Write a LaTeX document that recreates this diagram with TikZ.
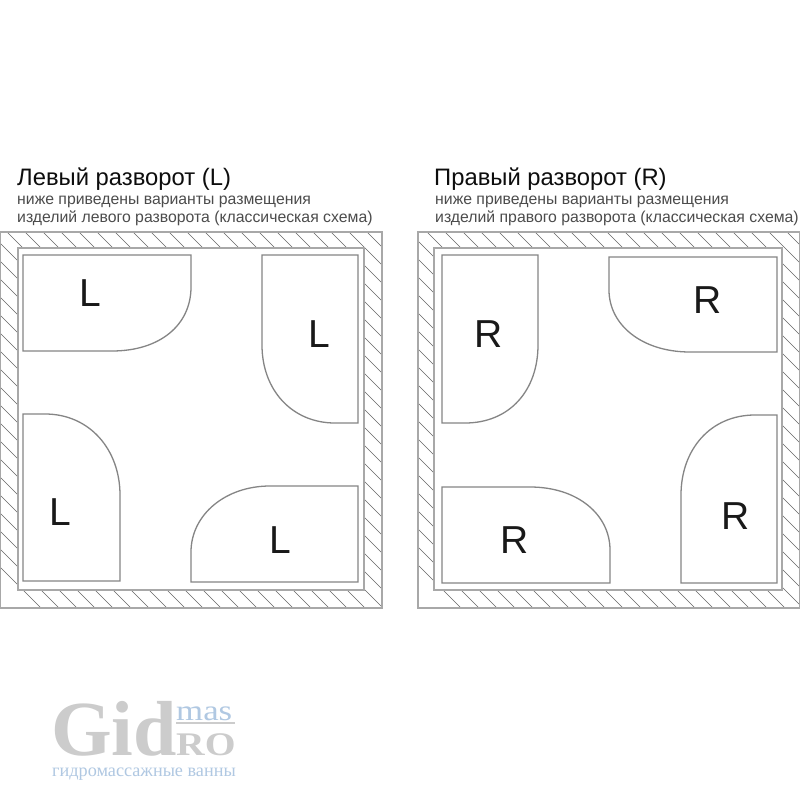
\documentclass[tikz,border=0pt]{standalone}
\usepackage{fontspec}
\setmainfont{Liberation Sans}
\newfontfamily\logofont{Liberation Serif}
\usetikzlibrary{positioning}
\definecolor{wallgray}{gray}{0.66}
\definecolor{tubgray}{gray}{0.52}
\definecolor{logogray}{gray}{0.80}
\definecolor{logoblue}{RGB}{176,200,226}
\newcommand{\px}[1]{\fontsize{#1}{#1}\selectfont}
\tikzset{
  wall/.style = {draw = wallgray, line width = 1.5pt},
  hatch/.style = {draw = black!60, line width = 0.6pt},
  tub/.style = {draw = tubgray, line width = 1.3pt},
  head/.style = {anchor = base west, inner sep = 0pt, text = black!95, font = \px{23.8}},
  note/.style = {anchor = base west, inner sep = 0pt, text = black!70, font = \px{15.8}},
  letter/.style = {inner sep = 0pt, text = black!90, font = \px{39}},
  logo/.style = {anchor = base west, inner sep = 0pt}
}
\begin{document}
\begin{tikzpicture}[x=1pt,y=-1pt]
\useasboundingbox (0,0) rectangle (800,800);
\fill[white] (0,0) rectangle (800,800);

% headings
\node[head] (headL) at (17,185) {Левый разворот (L)};
\node[note] (noteLa) at (17,204) {ниже приведены варианты размещения};
\node[note] (noteLb) at (17,222) {изделий левого разворота (классическая схема)};
\node[head] (headR) at (434,185) {Правый разворот (R)};
\node[note] (noteRa) at (435,204) {ниже приведены варианты размещения};
\node[note] (noteRb) at (435,222) {изделий правого разворота (классическая схема)};

% walls
\foreach \xa/\xb/\xc/\xd/\shift in {0/18/364/382/5, 418/434/782/800/7} {
  \begin{scope}[even odd rule]
    \clip (\xa,232) rectangle (\xd,608) (\xb,248) rectangle (\xc,590);
    \foreach \i in {0,...,41}
      \draw[hatch] (\xa-340+\shift+18*\i,232) -- ++(376,376);
  \end{scope}
  \draw[wall] (\xa,232) rectangle (\xd,608);
  \draw[wall] (\xb,248) rectangle (\xc,590);
}

% left turn
\draw[tub] (23,255) -- (191,255) -- (191,287) .. controls (191,325) and (160,351) .. (112,351) -- (23,351) -- cycle;
\draw[tub] (262,255) -- (358,255) -- (358,423) -- (335,423) .. controls (292,423) and (262,390) .. (262,345) -- cycle;
\draw[tub] (23,414) -- (45,414) .. controls (90,414) and (120,450) .. (120,495) -- (120,581) -- (23,581) -- cycle;
\draw[tub] (358,486) -- (270,486) .. controls (225,486) and (191,515) .. (191,552) -- (191,582) -- (358,582) -- cycle;
\node[letter] (tubLa) at (90,293) {L};
\node[letter] (tubLb) at (319,334) {L};
\node[letter] (tubLc) at (60,512) {L};
\node[letter] (tubLd) at (280,540) {L};

% right turn
\draw[tub] (442,255) -- (538,255) -- (538,345) .. controls (538,390) and (510,423) .. (465,423) -- (442,423) -- cycle;
\draw[tub] (609,257) -- (777,257) -- (777,352) -- (690,352) .. controls (642,352) and (609,325) .. (609,290) -- cycle;
\draw[tub] (442,487) -- (530,487) .. controls (578,487) and (610,515) .. (610,550) -- (610,583) -- (442,583) -- cycle;
\draw[tub] (777,415) -- (755,415) .. controls (710,415) and (681,450) .. (681,495) -- (681,583) -- (777,583) -- cycle;
\node[letter] (tubRa) at (489,334) {R};
\node[letter] (tubRb) at (708,300) {R};
\node[letter] (tubRc) at (515,540) {R};
\node[letter] (tubRd) at (736,516) {R};

% logo
\node[logo, text = logogray, font = \logofont\bfseries\px{78}] (logoGid) at (51,755) {Gid};
\node[logo, text = logoblue, font = \logofont\px{29}] (logoMas) at (176,720) {\scalebox{1.2}[1]{mas}};
\node[logo, text = logogray, font = \logofont\bfseries\px{33}] (logoRo) at (176,755) {\scalebox{1.2}[1]{RO}};
\draw[logogray, line width = 2pt] (176,723) -- (235,723);
\node[logo, text = logoblue, font = \logofont\px{18.2}] (logoText) at (52,776) {гидромассажные ванны};
\end{tikzpicture}
\end{document}
